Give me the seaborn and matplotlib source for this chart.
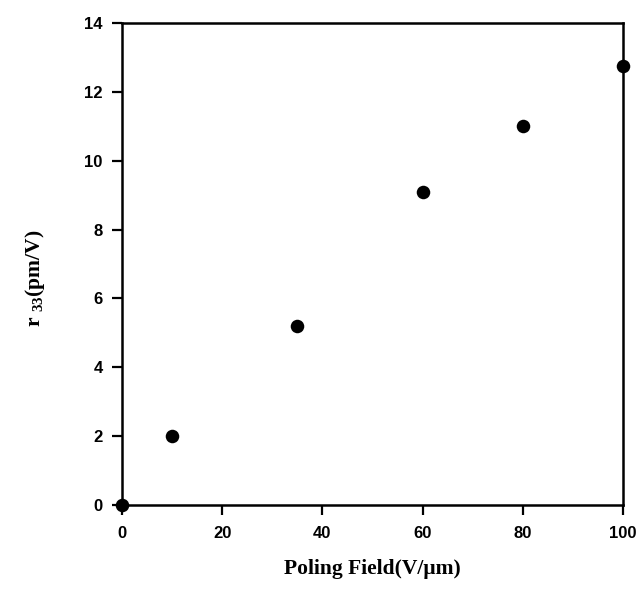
import matplotlib
matplotlib.use("Agg")
import matplotlib.pyplot as plt
import seaborn as sns
import pandas as pd

# data
poling_field = [0, 10, 35, 60, 80, 100]
r33 = [0.0, 2.0, 5.2, 9.1, 11.0, 12.75]

x_ticks = [0, 20, 40, 60, 80, 100]
y_ticks = [0, 2, 4, 6, 8, 10, 12, 14]

df = pd.DataFrame({"field": poling_field, "r33": r33})

sns.set_theme(style="ticks")
plt.rcParams["font.family"] = ["Liberation Sans", "DejaVu Sans"]
plt.rcParams.update({
    "text.color": "black",
    "axes.labelcolor": "black",
    "xtick.color": "black",
    "ytick.color": "black",
    "mathtext.fontset": "custom",
    "mathtext.rm": "Liberation Serif",
    "mathtext.bf": "Liberation Serif:bold",
})

fig = plt.figure(figsize=(6.41, 5.89), dpi=100)
ax = fig.add_axes([0.1903, 0.1426, 0.7816, 0.8183])

sns.scatterplot(data=df, x="field", y="r33", color="black", s=95,
                edgecolor="black", linewidth=0, ax=ax, clip_on=False, zorder=5)

ax.set_xlim(0, 100)
ax.set_ylim(0, 14)
ax.set_xticks(x_ticks)
ax.set_yticks(y_ticks)
ax.tick_params(axis="both", direction="out", length=7, width=1.6,
               labelsize=12, top=False, right=False)
ax.tick_params(axis="x", pad=8)
ax.tick_params(axis="y", pad=7)
for lab in ax.get_xticklabels() + ax.get_yticklabels():
    lab.set_fontweight("bold")
for sp in ax.spines.values():
    sp.set_linewidth(1.8)
    sp.set_color("black")

serif = ["Liberation Serif", "DejaVu Serif"]
ax.set_xlabel("Poling Field(V/\u03bcm)", fontsize=15.5, fontweight="bold",
              family=serif)
ax.set_ylabel(r"r $_{\mathbf{33}}$(pm/V)", fontsize=15.5, fontweight="bold",
              family=serif)
ax.xaxis.set_label_coords(0.5, -0.112)
ax.yaxis.set_label_coords(-0.15, 0.47)

fig.savefig("out.png", dpi=100)
